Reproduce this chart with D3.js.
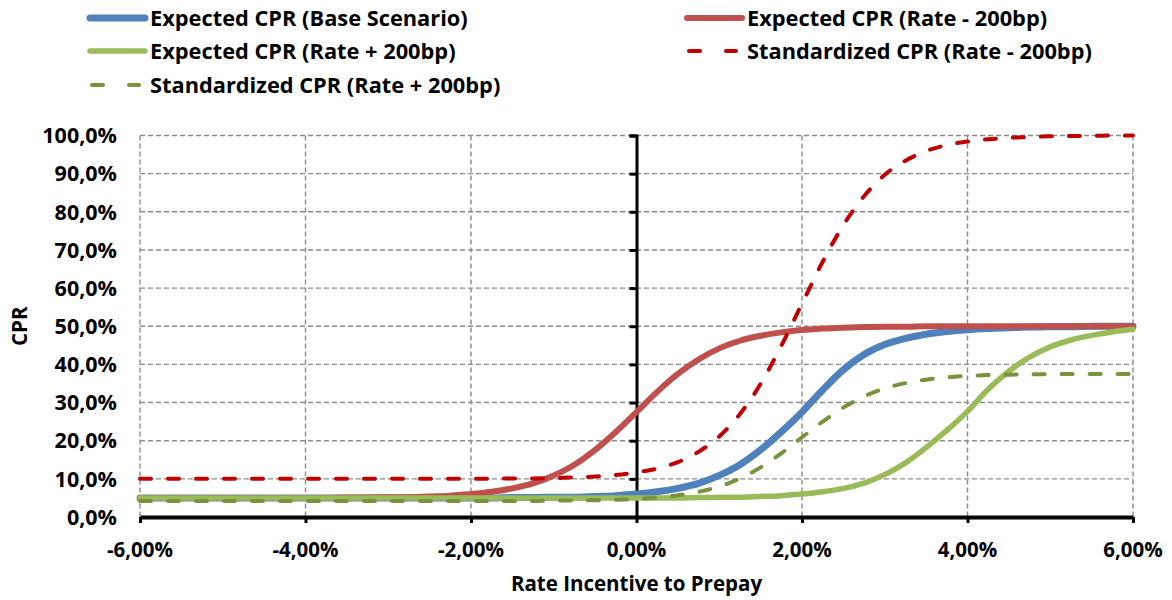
<!DOCTYPE html>
<html>
<head>
<meta charset="utf-8">
<script src="https://cdn.jsdelivr.net/npm/d3@7"></script>
<style>
  html, body { margin: 0; padding: 0; background: #fff; }
  svg { display: block; }
  text { font-family: "Open Sans", Lato, sans-serif; font-weight: 700; fill: #000; }
</style>
</head>
<body>
<svg id="chart" width="1172" height="600"></svg>
<script>
// Rate incentive (%), shared x values of all series
const rateIncentive = [
  -6, -5.75, -5.5, -5.25, -5, -4.75, -4.5, -4.25, -4, -3.75, -3.5, -3.25,
  -3, -2.75, -2.5, -2.25, -2, -1.75, -1.5, -1.25, -1, -0.75, -0.5, -0.25,
  0, 0.25, 0.5, 0.75, 1, 1.25, 1.5, 1.75, 2, 2.25, 2.5, 2.75,
  3, 3.25, 3.5, 3.75, 4, 4.25, 4.5, 4.75, 5, 5.25, 5.5, 5.75, 6
];

// CPR (%) per series
const cprBase = [
  5.0, 5.0, 5.0, 5.0, 5.0, 5.0, 5.0, 5.0, 5.0, 5.0, 5.0, 5.0,
  5.0, 5.0, 5.0, 5.0, 5.0, 5.0, 5.1, 5.1, 5.2, 5.2, 5.4, 5.6,
  6.0, 6.6, 7.5, 8.8, 10.9, 13.7, 17.6, 22.3, 27.5, 33.3, 38.6, 42.6,
  45.2, 46.8, 47.9, 48.6, 49.1, 49.4, 49.6, 49.8, 49.9, 49.9, 50.0, 50.0, 50.0
];
const cprRateDown = [
  5.0, 5.0, 5.0, 5.0, 5.0, 5.0, 5.0, 5.0, 5.0, 5.0, 5.1, 5.1,
  5.2, 5.2, 5.4, 5.6, 6.0, 6.6, 7.5, 8.8, 10.9, 13.7, 17.6, 22.3,
  27.5, 32.8, 37.5, 41.3, 44.2, 46.2, 47.5, 48.4, 49.0, 49.4, 49.6, 49.8,
  49.9, 49.9, 50.0, 50.0, 50.0, 50.0, 50.0, 50.0, 50.0, 50.0, 50.0, 50.0, 50.0
];
const cprRateUp = [
  5.0, 5.0, 5.0, 5.0, 5.0, 5.0, 5.0, 5.0, 5.0, 5.0, 5.0, 5.0,
  5.0, 5.0, 5.0, 5.0, 5.0, 5.0, 5.0, 5.0, 5.0, 5.0, 5.0, 5.0,
  5.0, 5.0, 5.0, 5.1, 5.2, 5.2, 5.4, 5.6, 6.0, 6.6, 7.5, 8.9,
  11.1, 14.2, 18.2, 22.7, 27.7, 33.5, 38.2, 41.9, 44.6, 46.4, 47.6, 48.5, 49.2
];
const stdCprRateDown = [
  10.0, 10.0, 10.0, 10.0, 10.0, 10.0, 10.0, 10.0, 10.0, 10.0, 10.0, 10.0,
  10.0, 10.0, 10.0, 10.0, 10.0, 10.0, 10.1, 10.1, 10.2, 10.4, 10.6, 11.0,
  11.7, 12.7, 14.4, 17.1, 21.1, 27.0, 34.9, 44.9, 55.9, 66.9, 76.5, 84.1,
  89.7, 93.4, 95.9, 97.5, 98.4, 99.0, 99.4, 99.6, 99.8, 99.9, 99.9, 100.0, 100.0
];
const stdCprRateUp = [
  4.2, 4.2, 4.2, 4.2, 4.2, 4.2, 4.2, 4.2, 4.2, 4.2, 4.2, 4.2,
  4.2, 4.2, 4.2, 4.2, 4.2, 4.2, 4.2, 4.2, 4.3, 4.3, 4.4, 4.5,
  4.7, 5.1, 5.7, 6.6, 8.0, 10.1, 13.0, 16.7, 20.9, 25.0, 28.7, 31.6,
  33.7, 35.1, 36.0, 36.6, 37.0, 37.2, 37.3, 37.4, 37.4, 37.5, 37.5, 37.5, 37.5
];

const seriesNames = [
  "Expected CPR (Base Scenario)",
  "Expected CPR (Rate - 200bp)",
  "Expected CPR (Rate + 200bp)",
  "Standardized CPR (Rate - 200bp)",
  "Standardized CPR (Rate + 200bp)"
];
const seriesValues = [cprBase, cprRateDown, cprRateUp, stdCprRateDown, stdCprRateUp];

const xTicks = [-6, -4, -2, 0, 2, 4, 6];
const yTicks = [0, 10, 20, 30, 40, 50, 60, 70, 80, 90, 100];
const xTitle = "Rate Incentive to Prepay";
const yTitle = "CPR";

// Line styling per series
const styles = [
  { color: "#4F81BD", width: 7, dash: null },
  { color: "#C0504D", width: 6, dash: null },
  { color: "#9BBB59", width: 5.5, dash: null },
  { color: "#C00000", width: 4, dash: "11,17" },
  { color: "#77933C", width: 4, dash: "11,17" }
];

const FONT = 20.5;
const FONT_Y = 21.5;
const FONT_LEGEND = 21.8;

const locale = d3.formatLocale({
  decimal: ",", thousands: ".", grouping: [3], currency: ["", "€"], minus: "-", percent: "%"
});
const fmtX = v => locale.format(".2f")(v) + "%";
const fmtY = v => locale.format(".1f")(v) + "%";

const svg = d3.select("#chart");
const plot = { left: 140, right: 1133, top: 135.5, bottom: 517 };

const x = d3.scaleLinear().domain([-6, 6]).range([plot.left, plot.right]);
const y = d3.scaleLinear().domain([0, 100]).range([plot.bottom, plot.top]);

// Dashed grid
const grid = svg.append("g").attr("stroke", "#8C8C8C").attr("stroke-width", 1.4)
  .attr("stroke-dasharray", "5,3");
grid.selectAll("line.h").data(yTicks.filter(v => v > 0)).join("line")
  .attr("x1", plot.left).attr("x2", plot.right)
  .attr("y1", d => y(d)).attr("y2", d => y(d));
grid.selectAll("line.v").data(xTicks.filter(v => v !== 0)).join("line")
  .attr("y1", plot.top).attr("y2", plot.bottom)
  .attr("x1", d => x(d)).attr("x2", d => x(d));

// Y axis line sits at zero incentive, labels on the far left
const yAxis = svg.append("g").attr("transform", `translate(${x(0)},0)`)
  .call(d3.axisLeft(y).tickValues(yTicks).tickSize(7).tickFormat(""));
yAxis.select(".domain").attr("stroke", "#000").attr("stroke-width", 3);
yAxis.selectAll(".tick line").attr("stroke", "#000").attr("stroke-width", 3);

svg.append("g").selectAll("text").data(yTicks).join("text")
  .attr("x", 117).attr("y", d => y(d)).attr("dy", "0.36em")
  .attr("text-anchor", "end").attr("font-size", FONT_Y)
  .text(fmtY);

// Series lines, drawn in legend order
const line = d3.line()
  .x((d, i) => x(rateIncentive[i]))
  .y(d => y(d))
  .curve(d3.curveMonotoneX);

svg.append("g").selectAll("path").data(seriesValues).join("path")
  .attr("d", d => line(d))
  .attr("fill", "none")
  .attr("stroke", (d, i) => styles[i].color)
  .attr("stroke-width", (d, i) => styles[i].width)
  .attr("stroke-linecap", "round")
  .attr("stroke-linejoin", "round")
  .attr("stroke-dasharray", (d, i) => styles[i].dash);

// X axis at 0% CPR
const xAxis = svg.append("g").attr("transform", `translate(0,${plot.bottom})`)
  .call(d3.axisBottom(x).tickValues(xTicks).tickSize(6).tickSizeOuter(0).tickFormat(""));
xAxis.select(".domain").attr("stroke", "#000").attr("stroke-width", 4);
xAxis.selectAll(".tick line").attr("stroke", "#000").attr("stroke-width", 3);

svg.append("g").selectAll("text").data(xTicks).join("text")
  .attr("x", d => x(d)).attr("y", 550).attr("dy", "0.36em")
  .attr("text-anchor", "middle").attr("font-size", FONT)
  .text(fmtX);

// Axis titles
svg.append("text").attr("x", x(0)).attr("y", 584).attr("dy", "0.36em")
  .attr("text-anchor", "middle").attr("font-size", FONT).text(xTitle);
svg.append("text").attr("transform", `translate(20,${(plot.top + plot.bottom) / 2}) rotate(-90)`)
  .attr("dy", "0.36em").attr("text-anchor", "middle").attr("font-size", FONT).text(yTitle);

// Legend: two columns, row-major
const legendPos = [
  { x: 88, y: 18 }, { x: 685, y: 18 },
  { x: 88, y: 51 }, { x: 685, y: 51 },
  { x: 88, y: 85 }
];
const legend = svg.append("g").selectAll("g").data(seriesNames).join("g")
  .attr("transform", (d, i) => `translate(${legendPos[i].x},${legendPos[i].y})`);
legend.each(function (d, i) {
  const g = d3.select(this);
  const s = styles[i];
  if (s.dash) {
    g.append("line").attr("x1", 4).attr("x2", 51).attr("y1", 0).attr("y2", 0)
      .attr("stroke", s.color).attr("stroke-width", s.width)
      .attr("stroke-linecap", "round").attr("stroke-dasharray", "11,26");
  } else {
    g.append("line").attr("x1", 2).attr("x2", 57).attr("y1", 0).attr("y2", 0)
      .attr("stroke", s.color).attr("stroke-width", s.width)
      .attr("stroke-linecap", "round");
  }
  g.append("text").attr("x", 62).attr("y", 0).attr("dy", "0.36em")
    .attr("font-size", FONT_LEGEND).text(d);
});
</script>
</body>
</html>
